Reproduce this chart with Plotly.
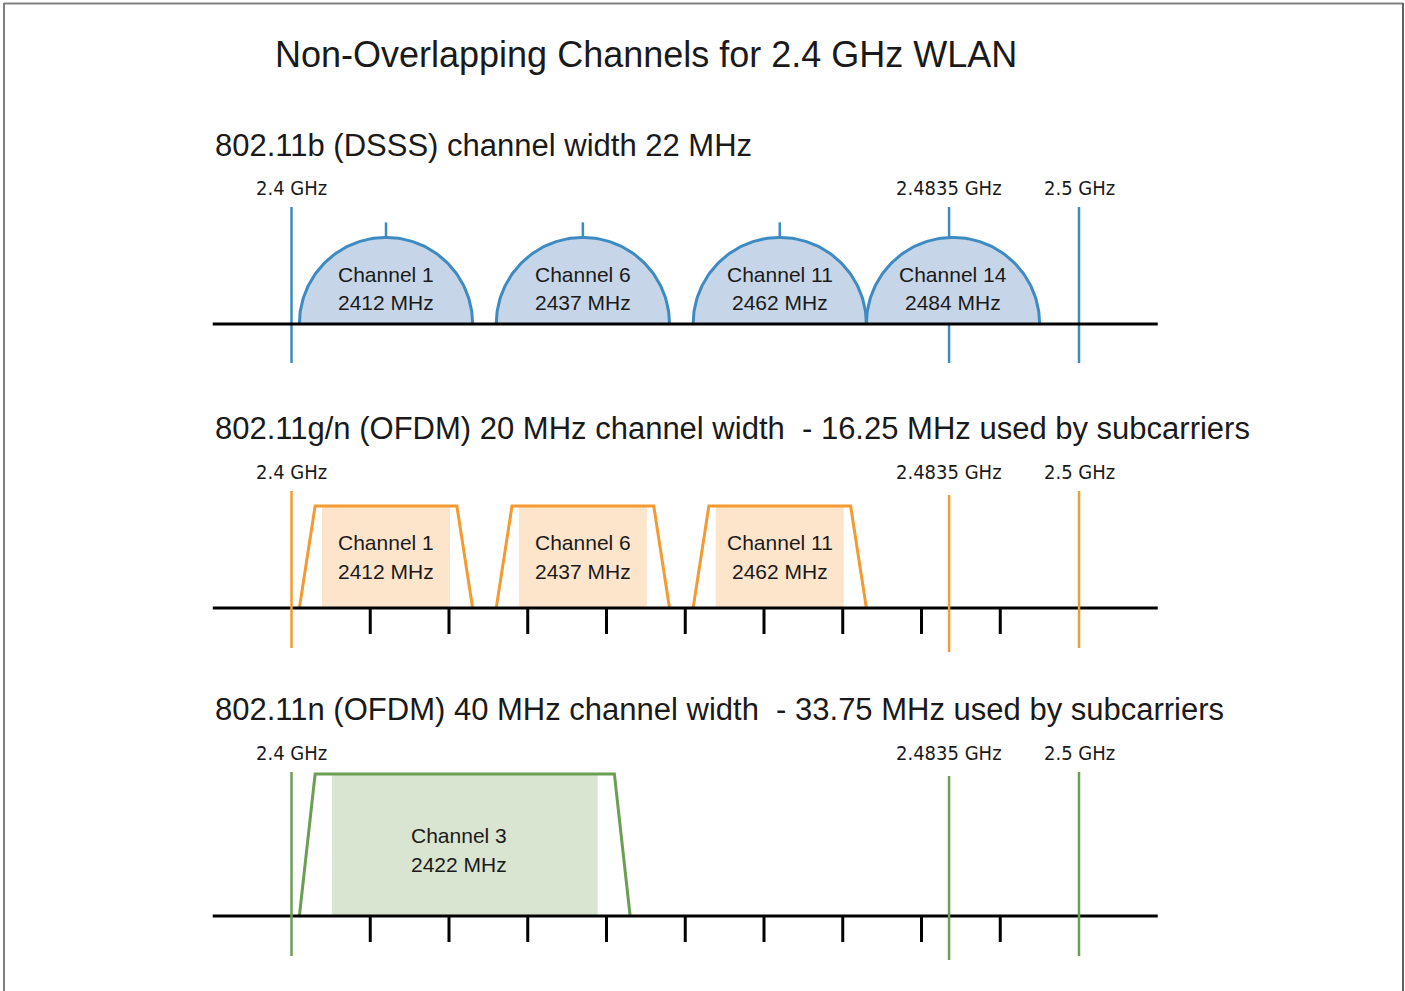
import numpy as np
import plotly.graph_objects as go

# ---------------- data ----------------
title = "Non-Overlapping Channels for 2.4 GHz WLAN"
section_titles = [
    "802.11b (DSSS) channel width 22 MHz",
    "802.11g/n (OFDM) 20 MHz channel width \u00a0- 16.25 MHz used by subcarriers",
    "802.11n (OFDM) 40 MHz channel width \u00a0- 33.75 MHz used by subcarriers",
]
band_edges = [2400, 2483.5, 2500]
band_labels = ["2.4 GHz", "2.4835 GHz", "2.5 GHz"]
axis_span = [2390, 2510]
tick_freqs = [2410, 2420, 2430, 2440, 2450, 2460, 2470, 2480, 2490]

dsss_names = ["Channel 1", "Channel 6", "Channel 11", "Channel 14"]
dsss_centers = [2412, 2437, 2462, 2484]
dsss_width = 22

ofdm20_names = ["Channel 1", "Channel 6", "Channel 11"]
ofdm20_centers = [2412, 2437, 2462]
ofdm20_width = 20
ofdm20_used = 16.25

ofdm40_names = ["Channel 3"]
ofdm40_centers = [2422]
ofdm40_width = 40
ofdm40_used = 33.75

skirt = 1  # MHz of slope on each side of the OFDM mask

# ---------------- layout / style ----------------
W, H = 1405, 991
PX = 7.875                      # pixels per MHz
X0 = 2400 - 291.5 / PX
X1 = X0 + W / PX

BLUE, BLUE_F = "#3d8bc0", "#c6d6e8"
ORANGE, ORANGE_F = "#f59a31", "#fde5cc"
GREEN, GREEN_F = "#6b9f53", "#d9e4d1"
TXT = "#1a1a1a"
FONT = "Liberation Sans"
NARROW = "Liberation Sans Narrow, DejaVu Sans Condensed, Liberation Sans"

S = [
    dict(base=324, top=207, bot=363, label_y=188, title_y=145, ch_y=(274, 302), color=BLUE, fill=BLUE_F),
    dict(base=608, top=491, bot=648, label_y=472, title_y=428, ch_y=(542, 571), color=ORANGE, fill=ORANGE_F,
         tick_bot=634, trap_top=506),
    dict(base=916, top=772, bot=956, label_y=753, title_y=709, ch_y=(835, 864), color=GREEN, fill=GREEN_F,
         tick_bot=942, trap_top=774),
]
edge_dy = [0, 4, 0]

fig = go.Figure()
ann = []


def line(xs, ys, color, width):
    fig.add_trace(go.Scatter(x=xs, y=ys, mode="lines", line=dict(color=color, width=width),
                             hoverinfo="skip", showlegend=False))


def text(x, y, s, size, family=FONT, xref="x", xanchor="center", xshift=0):
    ann.append(dict(x=x, y=y, xref=xref, yref="y", text=s, showarrow=False, xanchor=xanchor,
                    yanchor="middle", xshift=xshift, font=dict(family=family, size=size, color=TXT)))


# ----- section 1: DSSS -----
s = S[0]
for i, e in enumerate(band_edges):
    line([e, e], [s["top"], s["bot"]], s["color"], 2.5)
r = dsss_width / 2
t = np.linspace(np.pi, 0, 120)
for name, c in zip(dsss_names, dsss_centers):
    xs = c + r * np.cos(t)
    ys = s["base"] - r * PX * np.sin(t)
    fig.add_trace(go.Scatter(x=xs, y=ys, mode="lines", fill="toself", fillcolor=s["fill"],
                             line=dict(color=s["color"], width=3), hoverinfo="skip", showlegend=False))
    if all(abs(c - e) > 1 for e in band_edges):
        line([c, c], [s["base"] - r * PX - 15, s["base"] - r * PX], s["color"], 2.5)
    text(c, s["ch_y"][0], name, 21)
    text(c, s["ch_y"][1], f"{c} MHz", 21)
line(axis_span, [s["base"], s["base"]], "black", 3)

# ----- sections 2 & 3: OFDM -----
for s, names, centers, width, used, xsh in [
    (S[1], ofdm20_names, ofdm20_centers, ofdm20_width, ofdm20_used, 0),
    (S[2], ofdm40_names, ofdm40_centers, ofdm40_width, ofdm40_used, -6),
]:
    for name, c in zip(names, centers):
        u = used / 2
        fig.add_trace(go.Scatter(x=[c - u, c + u, c + u, c - u, c - u],
                                 y=[s["base"], s["base"], s["trap_top"], s["trap_top"], s["base"]],
                                 mode="lines", fill="toself", fillcolor=s["fill"], line=dict(width=0),
                                 hoverinfo="skip", showlegend=False))
        hb, ht = width / 2 + skirt, width / 2 - skirt
        line([c - hb, c - ht, c + ht, c + hb], [s["base"], s["trap_top"], s["trap_top"], s["base"]],
             s["color"], 3)
        text(c, s["ch_y"][0], name, 21, xshift=xsh)
        text(c, s["ch_y"][1], f"{c} MHz", 21, xshift=xsh)
    line(axis_span, [s["base"], s["base"]], "black", 3)
    for f in tick_freqs:
        line([f, f], [s["base"], s["tick_bot"]], "black", 3)
    for i, e in enumerate(band_edges):
        line([e, e], [s["top"] + edge_dy[i], s["bot"] + edge_dy[i]], s["color"], 2.5)

# ----- labels -----
for k, s in enumerate(S):
    text(axis_span[0], s["title_y"], section_titles[k], 31, xanchor="left")
    for i, (e, lab) in enumerate(zip(band_edges, band_labels)):
        text(e, s["label_y"], lab, 20, family=NARROW)

ann.append(dict(x=646 / W, y=54, xref="paper", yref="y", text=title, showarrow=False,
                xanchor="center", yanchor="middle", font=dict(family=FONT, size=36, color=TXT)))

# ----- frame -----
shapes = [
    dict(type="line", xref="paper", yref="y", x0=4 / W, x1=4 / W, y0=3, y1=H + 5, line=dict(color="#808080", width=2)),
    dict(type="line", xref="paper", yref="y", x0=4 / W, x1=1403 / W, y0=3.5, y1=3.5, line=dict(color="#808080", width=2)),
    dict(type="line", xref="paper", yref="y", x0=1403 / W, x1=1403 / W, y0=3, y1=H + 5, line=dict(color="#606060", width=2)),
]

fig.update_layout(
    width=W, height=H, margin=dict(l=0, r=0, t=0, b=0),
    paper_bgcolor="white", plot_bgcolor="white",
    xaxis=dict(range=[X0, X1], visible=False, fixedrange=True),
    yaxis=dict(range=[H, 0], visible=False, fixedrange=True),
    annotations=ann, shapes=shapes, showlegend=False,
)

fig.write_html("out.html", config={"displayModeBar": False},
               post_script="document.body.style.margin='0';document.body.style.overflow='hidden';")
